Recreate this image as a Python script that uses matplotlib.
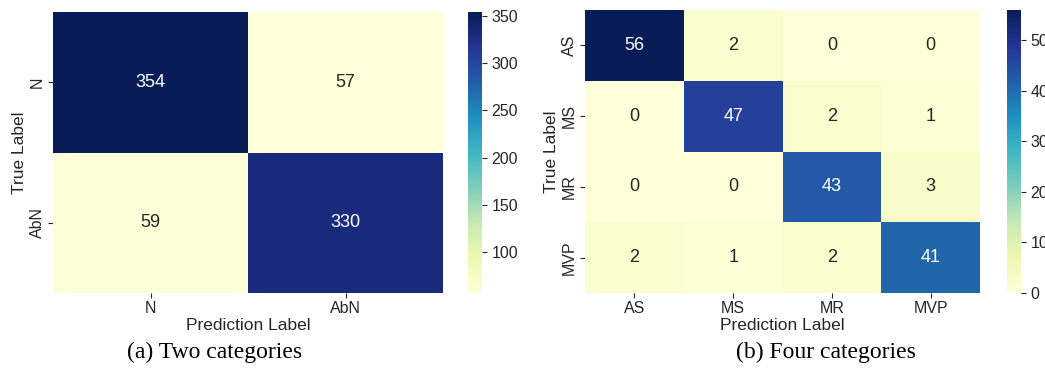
import numpy as np
import matplotlib
matplotlib.use("Agg")
import matplotlib.pyplot as plt
import seaborn as sns

# ---- data ----
labels_two = ["N", "AbN"]
cm_two = [[354, 57],
          [59, 330]]
labels_four = ["AS", "MS", "MR", "MVP"]
cm_four = [[56, 2, 0, 0],
           [0, 47, 2, 1],
           [0, 0, 43, 3],
           [2, 1, 2, 41]]
cbar_ticks_two = [100, 150, 200, 250, 300, 350]
cbar_ticks_four = [0, 10, 20, 30, 40, 50]
captions = ["(a) Two categories", "(b) Four categories"]

sns.set_theme(style="ticks")
plt.rcParams['font.family'] = ['Liberation Sans', 'DejaVu Sans']
plt.rcParams['text.color'] = '#262626'
plt.rcParams['axes.labelcolor'] = '#262626'
plt.rcParams['xtick.color'] = '#262626'
plt.rcParams['ytick.color'] = '#262626'

W, H = 1045, 385
fig = plt.figure(figsize=(W / 100, H / 100), dpi=100)

def px(l, t, r, b):
    return [l / W, (H - b) / H, (r - l) / W, (b - t) / H]

ax1 = fig.add_axes(px(53, 12, 443, 293))
cax1 = fig.add_axes(px(468, 12, 482, 293))
ax2 = fig.add_axes(px(585, 10, 980, 293))
cax2 = fig.add_axes(px(1007, 10, 1021, 293))

for ax, cax, cm, labs, ticks in [(ax1, cax1, cm_two, labels_two, cbar_ticks_two),
                                  (ax2, cax2, cm_four, labels_four, cbar_ticks_four)]:
    sns.heatmap(np.array(cm), ax=ax, cbar_ax=cax, cmap="YlGnBu", annot=True, fmt="d",
                annot_kws={"fontsize": 13}, xticklabels=labs, yticklabels=labs,
                cbar_kws={"ticks": ticks})
    ax.set_xlabel("Prediction Label", fontsize=12.5, labelpad=1)
    ax.set_ylabel("True Label", fontsize=12.5, labelpad=2)
    ax.tick_params(axis="both", labelsize=11.5, length=3.5, width=0.8, pad=2.5)
    plt.setp(ax.get_yticklabels(), rotation=90, va="center")
    plt.setp(ax.get_xticklabels(), rotation=0)
    cax.tick_params(labelsize=11.5, length=3.5, width=0.8)
    for sp in cax.spines.values():
        sp.set_visible(False)

fig.text(215 / W, 1 - 352 / H, captions[0], ha="center", va="center",
         fontsize=17, family="Liberation Serif", color="black")
fig.text(826 / W, 1 - 352 / H, captions[1], ha="center", va="center",
         fontsize=17, family="Liberation Serif", color="black")

fig.savefig("out.png", dpi=100)
